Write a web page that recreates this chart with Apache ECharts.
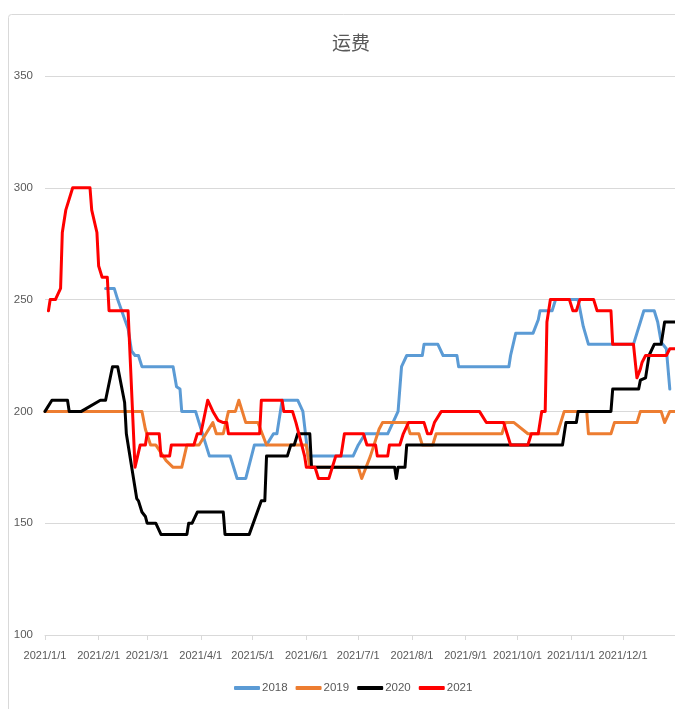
<!DOCTYPE html>
<html><head><meta charset="utf-8">
<script src="https://cdn.jsdelivr.net/npm/echarts@6/dist/echarts.min.js"></script>
<style>html,body{margin:0;padding:0;background:#fff}#c{width:675px;height:709px}</style>
</head><body><div id="c"></div>
<script>
const seriesNames = ['2018','2019','2020','2021'];
const monthTicks = ['1/1','2/1','3/1','4/1','5/1','6/1','7/1','8/1','9/1','10/1','11/1','12/1'];

const dates2018 = ['2/5','2/10','2/12','2/13','2/18','2/20','2/22','2/24','2/26','3/16','3/18','3/20','3/21','3/29','3/31','4/6','4/18','4/22','4/27','5/2','5/9','5/13','5/15','5/17','5/18','5/27','5/30','6/2','6/28','7/1','7/5','7/18','7/21','7/24','7/26','7/29','8/7','8/8','8/16','8/19','8/27','8/28','9/26','9/27','9/30','10/10','10/13','10/14','10/21','10/23','11/5','11/8','11/11','12/7','12/9','12/11','12/13','12/19','12/21','12/23','12/26','12/28'];
const values2018 = [255,255,250,250,237,227,225,225,220,220,211,210,200,200,195,180,180,170,170,185,185,190,190,200,205,205,200,180,180,185,190,190,195,200,220,225,225,230,230,225,225,220,220,225,235,235,241,245,245,250,250,238,230,230,235,240,245,245,240,231,228,210];

const dates2019 = ['1/1','2/26','2/28','3/3','3/6','3/12','3/16','3/21','3/24','3/31','4/8','4/10','4/14','4/17','4/21','4/23','4/25','4/27','5/4','5/9','6/1','6/3','7/1','7/3','7/8','7/13','7/15','7/29','7/31','8/5','8/7','8/13','8/15','9/22','9/24','9/29','10/7','10/24','10/28','11/10','11/11','11/24','11/26','12/9','12/11','12/23','12/25','12/26','12/28','12/31'];
const values2019 = [200,200,192,185,185,178,175,175,185,185,195,190,190,200,200,205,200,195,195,185,185,175,175,170,180,192,195,195,190,190,185,185,190,190,195,195,190,190,200,200,190,190,195,195,200,200,195,195,200,200];

const dates2020 = ['1/1','1/5','1/14','1/15','1/22','2/2','2/5','2/9','2/12','2/16','2/17','2/23','2/24','2/26','2/28','3/1','3/6','3/9','3/24','3/25','3/27','3/30','4/14','4/15','4/29','5/6','5/8','5/9','5/21','5/23','5/25','5/27','6/3','6/4','7/22','7/23','7/24','7/28','7/29','10/27','10/29','11/4','11/5','11/24','11/25','12/10','12/11','12/14','12/16','12/19','12/23','12/25','12/31'];
const values2020 = [200,205,205,200,200,205,205,220,220,204,190,161,160,155,153,150,150,145,145,150,150,155,155,145,145,160,160,180,180,185,185,190,190,175,175,170,175,175,185,185,195,195,200,200,210,210,214,215,225,230,230,240,240];

const dates2021 = ['1/3','1/4','1/7','1/10','1/11','1/12','1/13','1/14','1/17','1/27','1/28','1/31','2/1','2/3','2/6','2/7','2/18','2/22','2/25','2/28','3/1','3/8','3/9','3/14','3/15','3/28','3/30','4/1','4/5','4/8','4/11','4/14','4/16','4/17','5/5','5/6','5/18','5/19','5/24','5/26','5/29','5/31','6/1','6/6','6/8','6/14','6/16','6/18','6/21','6/23','7/4','7/6','7/11','7/12','7/18','7/19','7/25','7/27','7/30','8/8','8/10','8/12','8/14','8/18','9/9','9/13','9/23','9/25','9/27','10/7','10/9','10/13','10/15','10/17','10/18','10/20','10/31','11/2','11/4','11/6','11/14','11/16','11/24','11/25','12/7','12/9','12/11','12/12','12/14','12/26','12/28','12/31'];
const values2021 = [245,250,250,255,280,280,290,290,300,300,290,280,265,260,260,245,245,175,185,185,190,190,180,180,185,185,190,190,205,200,196,195,195,190,190,205,205,200,200,195,186,180,175,175,170,170,175,180,180,190,190,185,185,180,180,185,185,190,195,195,190,190,195,200,200,195,195,190,185,185,190,190,200,200,240,250,250,245,245,250,250,245,245,230,230,215,219,222,225,225,228,228];

const colors = ['#5B9BD5','#ED7D31','#000000','#FF0000'];
function toTime(md){const p=md.split('/');return new Date(2021, +p[0]-1, +p[1]).getTime();}
function pairs(ds,vs){return ds.map((d,i)=>[toTime(d),vs[i]]);}
const allDates=[dates2018,dates2019,dates2020,dates2021];
const allValues=[values2018,values2019,values2020,values2021];
const tickTimes = monthTicks.map(toTime);

const chart = echarts.init(document.getElementById('c'), null, {renderer:'canvas'});
const font = 'Liberation Sans, Arial, sans-serif';
chart.setOption({
  animation:false,
  backgroundColor:'#fff',
  title:{text:'运费', left:346, textAlign:'center', top:28, textStyle:{fontSize:19, fontWeight:'normal', color:'#595959', fontFamily:'Noto Sans CJK SC, sans-serif'}},
  graphic:[{type:'rect', left:6, top:12, shape:{width:720, height:720, r:3}, style:{fill:'none', stroke:'#d9d9d9', lineWidth:1}, silent:true, z:-1}],
  grid:{left:45, right:-5, top:76, bottom:74, containLabel:false},
  legend:{data:seriesNames, left:234, top:682, padding:0, icon:'roundRect', itemWidth:26, itemHeight:4, itemGap:8,
    textStyle:{fontSize:11.5, color:'#595959', fontFamily:font, padding:[0,0,0,-3]}},
  xAxis:{type:'value', min:toTime('1/1'), max:toTime('12/31'),
    axisLine:{show:true, onZero:false, lineStyle:{color:'#d9d9d9'}},
    axisTick:{show:true, length:5, lineStyle:{color:'#d9d9d9'}, customValues:tickTimes},
    axisLabel:{customValues:tickTimes, margin:15, fontSize:11, color:'#595959', fontFamily:font, hideOverlap:false, showMaxLabel:true, showMinLabel:true,
      formatter:function(v){const d=new Date(v);return d.getFullYear()+'/'+(d.getMonth()+1)+'/'+d.getDate();}},
    splitLine:{show:false}},
  yAxis:{type:'value', min:100, max:350, interval:50,
    axisLine:{show:false}, axisTick:{show:false},
    axisLabel:{fontSize:11.5, color:'#595959', margin:12, fontFamily:font},
    splitLine:{lineStyle:{color:'#d9d9d9'}}},
  series: seriesNames.map((n,i)=>({name:n, type:'line', data:pairs(allDates[i],allValues[i]), showSymbol:false, symbol:'none',
    color:colors[i], lineStyle:{width:3, color:colors[i], cap:'round', join:'round'}, z:2+i}))
});
</script></body></html>
